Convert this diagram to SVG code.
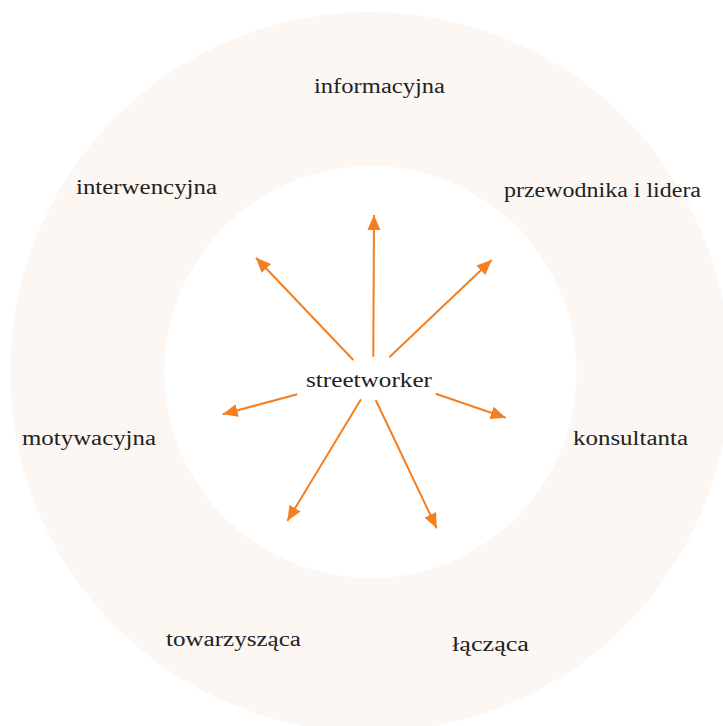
<svg xmlns="http://www.w3.org/2000/svg" width="723" height="726" viewBox="0 0 723 726">
<style>
.lbl{font-family:"Liberation Serif","DejaVu Serif",serif;font-size:20px;fill:#222;}
.arr{stroke:#F47F20;stroke-width:2;fill:none;marker-end:url(#ah);}
</style>
<defs>
<marker id="ah" markerUnits="userSpaceOnUse" markerWidth="16" markerHeight="14" refX="15" refY="6.5" orient="auto">
<path d="M0,0 L15,6.5 L0,13 Z" fill="#F47F20"/>
</marker>
</defs>
<rect width="723" height="726" fill="#fff"/>
<g id="ring">
<circle cx="370" cy="372" r="360" fill="#FCF7F3"/>
<circle cx="370.5" cy="372" r="206" fill="#fff"/>
</g>
<g id="connectors">
<line class="arr" x1="373.3" y1="356.7" x2="374" y2="215"/>
<line class="arr" x1="353.3" y1="360" x2="256" y2="257.7"/>
<line class="arr" x1="389.3" y1="357.3" x2="491.7" y2="260"/>
<line class="arr" x1="297.3" y1="394.3" x2="222.7" y2="414.3"/>
<line class="arr" x1="435.7" y1="393.7" x2="505.7" y2="417.7"/>
<line class="arr" x1="361" y1="399.3" x2="287.3" y2="521"/>
<line class="arr" x1="375.7" y1="400" x2="436.7" y2="528.3"/>
</g>
<g id="streetworker"><text class="lbl" x="306" y="386.5" textLength="126" lengthAdjust="spacingAndGlyphs">streetworker</text></g>
<g id="informacyjna"><text class="lbl" x="314" y="93" textLength="131" lengthAdjust="spacingAndGlyphs">informacyjna</text></g>
<g id="interwencyjna"><text class="lbl" x="76" y="194" textLength="141" lengthAdjust="spacingAndGlyphs">interwencyjna</text></g>
<g id="przewodnika"><text class="lbl" x="504" y="197" textLength="197" lengthAdjust="spacingAndGlyphs">przewodnika i lidera</text></g>
<g id="motywacyjna"><text class="lbl" x="22" y="445" textLength="134" lengthAdjust="spacingAndGlyphs">motywacyjna</text></g>
<g id="konsultanta"><text class="lbl" x="573" y="445" textLength="115" lengthAdjust="spacingAndGlyphs">konsultanta</text></g>
<g id="towarzyszaca"><text class="lbl" x="166" y="646" textLength="135" lengthAdjust="spacingAndGlyphs">towarzysząca</text></g>
<g id="laczaca"><text class="lbl" x="452" y="651" textLength="77" lengthAdjust="spacingAndGlyphs">łącząca</text></g>
</svg>
